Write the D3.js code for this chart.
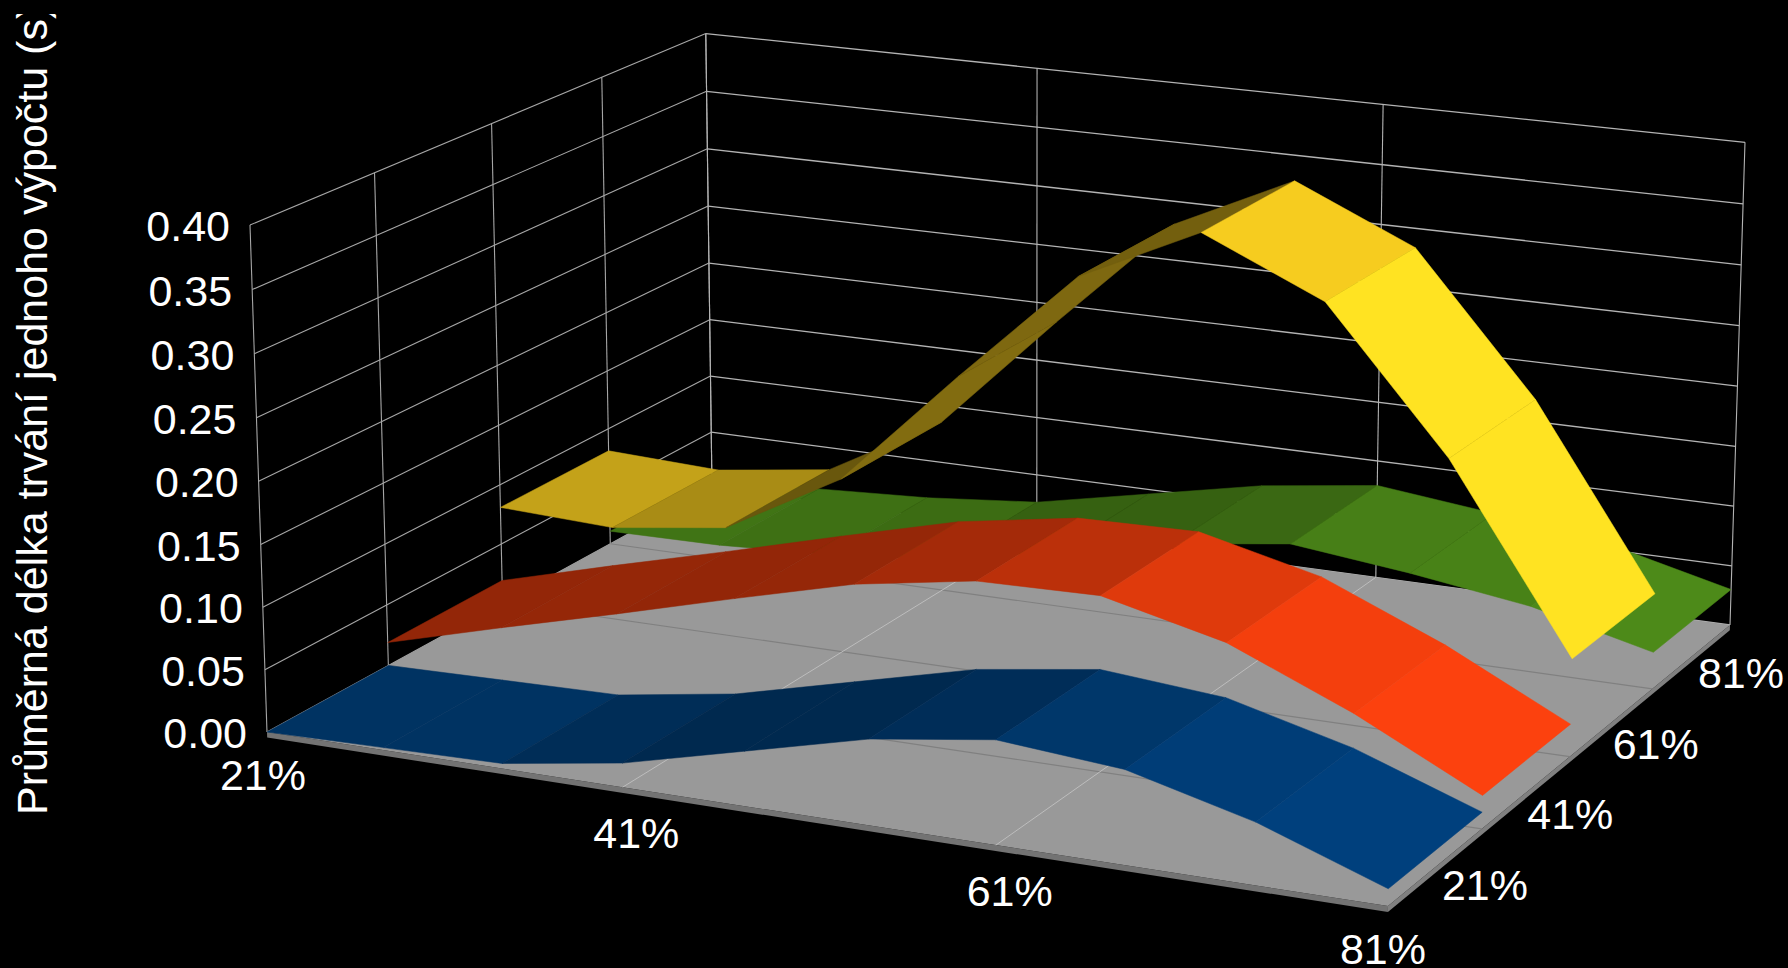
<!DOCTYPE html>
<html>
<head>
<meta charset="utf-8">
<script src="https://cdnjs.cloudflare.com/ajax/libs/d3/7.8.5/d3.min.js"></script>
<style>
  html, body { margin: 0; background: #000; overflow: hidden; }
  text { font-family: "Liberation Sans", Arial, sans-serif; fill: #fff; }
</style>
</head>
<body>
<svg id="chart" width="1788" height="968"></svg>
<script>
/* Ribbon chart: ten samples along x, four ribbons along depth */
var xSteps = d3.range(10);
var xTickLabels = ['21%', '41%', '61%', '81%'];
var xTickSteps = [0, 3, 6, 9];
var depthLabels = ['21%', '41%', '61%', '81%'];
var valueTicks = [0, 0.05, 0.1, 0.15, 0.2, 0.25, 0.3, 0.35, 0.4];
var yTitle = 'Průměrná délka trvání jednoho výpočtu (s)';

var blueValues = [0.000, 0.002, 0.004, 0.019, 0.043, 0.067, 0.081, 0.073, 0.048, 0.013];
var redValues = [0.019, 0.045, 0.070, 0.096, 0.121, 0.137, 0.139, 0.116, 0.075, 0.026];
var yellowValues = [0.081, 0.077, 0.090, 0.143, 0.239, 0.331, 0.377, 0.334, 0.223, 0.078];
var greenValues = [0.011, 0.012, 0.017, 0.026, 0.046, 0.066, 0.079, 0.068, 0.054, 0.030];
var seriesValues = [blueValues, redValues, yellowValues, greenValues];
var seriesColors = ['#004586', '#ff420e', '#ffd320', '#579d1c'];

/* screen positions of the box corners, the camera is derived from these */
var floorCorners = [[267, 732], [1388, 906], [1730, 625], [712, 488]];
var leftTop = [250, 225], rightTop = [1745, 138];

var xs = d3.scaleLinear().domain([0, xSteps.length - 1]).range([0, 1]);
var ys = d3.scaleLinear().domain([0, 0.4]).range([0, 1]);
var zs = d3.scaleLinear().domain([0, depthLabels.length]).range([0, 1]);

function buildCamera() {
  var c = floorCorners;
  var dx1 = c[1][0] - c[2][0], dx2 = c[3][0] - c[2][0], sx = c[0][0] - c[1][0] + c[2][0] - c[3][0];
  var dy1 = c[1][1] - c[2][1], dy2 = c[3][1] - c[2][1], sy = c[0][1] - c[1][1] + c[2][1] - c[3][1];
  var den = dx1 * dy2 - dx2 * dy1;
  var g = (sx * dy2 - dx2 * sy) / den, h = (dx1 * sy - sx * dy1) / den;
  var a = c[1][0] - c[0][0] + g * c[1][0], b = c[3][0] - c[0][0] + h * c[3][0];
  var d = c[1][1] - c[0][1] + g * c[1][1], e = c[3][1] - c[0][1] + h * c[3][1];
  var p0 = c[0][0], f = c[0][1];
  /* height column from the two known wall tops */
  var r1 = leftTop[0] - p0;
  var r2 = rightTop[0] * (1 + g + h) - (a + b + p0);
  var C = (r1 - r2) / (rightTop[0] - leftTop[0]);
  var A = r1 + leftTop[0] * C;
  var B = leftTop[1] * (1 + C) - f;
  return function (x, y, z) {
    var w = g * x + C * y + h * z + 1;
    return [(a * x + A * y + b * z + p0) / w, (d * x + B * y + e * z + f) / w];
  };
}
var cam = buildCamera();
function project(i, v, z) { return cam(xs(i), ys(v), zs(z)); }

var svg = d3.select('#chart');
svg.append('rect').attr('width', 1788).attr('height', 968).attr('fill', '#000');

var polygon = d3.line();
function quad(pts) { return polygon(pts) + 'Z'; }
function seg(a, b, color, width) {
  svg.append('line')
    .attr('x1', a[0]).attr('y1', a[1]).attr('x2', b[0]).attr('y2', b[1])
    .attr('stroke', color).attr('stroke-width', width);
}

/* walls */
var last = xSteps.length - 1, deep = depthLabels.length;
valueTicks.forEach(function (v) {
  seg(project(0, v, 0), project(0, v, deep), '#a6a6a6', 1.1);
  seg(project(0, v, deep), project(last, v, deep), '#b3b3b3', 1.3);
});
d3.range(deep + 1).forEach(function (z) {
  seg(project(0, 0, z), project(0, 0.4, z), '#a6a6a6', 1.1);
});
xTickSteps.forEach(function (i) {
  seg(project(i, 0, deep), project(i, 0.4, deep), '#b3b3b3', 1.1);
});

/* floor slab */
var slab = -0.0045;
svg.append('path').attr('fill', '#737373')
  .attr('d', quad([project(0, 0, 0), project(last, 0, 0), project(last, slab, 0), project(0, slab, 0)]));
svg.append('path').attr('fill', '#808080')
  .attr('d', quad([project(last, 0, 0), project(last, 0, deep), project(last, slab, deep), project(last, slab, 0)]));
svg.append('path').attr('fill', '#999999')
  .attr('d', quad([project(0, 0, 0), project(last, 0, 0), project(last, 0, deep), project(0, 0, deep)]));
[1, 2, 3].forEach(function (z) {
  seg(project(0, 0, z), project(last, 0, z), '#808080', 1.2);
});
[3, 6].forEach(function (i) {
  seg(project(i, 0, 0), project(i, 0, deep), '#bdbdbd', 1);
});

/* flat shading from the slope of each segment, light comes from the right */
function shade(base, dv) {
  var t = Math.atan(dv / 0.05 * -0.46);
  var lit = Math.abs(0.5 * Math.cos(t) + 0.866 * Math.sin(t));
  var b = Math.min(1.075, (0.33 + 0.72 * lit) * 1.08);
  var c = d3.rgb(base);
  return d3.rgb(Math.min(255, c.r * b), Math.min(255, c.g * b), Math.min(255, c.b * b)).formatHex();
}

/* back ribbon first */
d3.range(deep - 1, -1, -1).forEach(function (s) {
  var vals = seriesValues[s];
  d3.range(last).forEach(function (i) {
    var col = shade(seriesColors[s], vals[i + 1] - vals[i]);
    svg.append('path')
      .attr('d', quad([project(i, vals[i], s), project(i + 1, vals[i + 1], s), project(i + 1, vals[i + 1], s + 1), project(i, vals[i], s + 1)]))
      .attr('fill', col).attr('stroke', col).attr('stroke-width', 0.5);
  });
});

/* labels */
valueTicks.forEach(function (v) {
  var p = project(0, v, 0);
  svg.append('text')
    .attr('x', p[0] - 20).attr('y', p[1] + 16)
    .attr('text-anchor', 'end').attr('font-size', 43)
    .text(v.toFixed(2));
});

var labelX = d3.scaleLinear().domain([0, 3]).range([263, 1383]);
var labelY = d3.scaleLinear().domain([0, 3]).range([790, 964]);
xTickLabels.forEach(function (l, k) {
  svg.append('text')
    .attr('x', labelX(k)).attr('y', labelY(k))
    .attr('text-anchor', 'middle').attr('font-size', 43)
    .text(l);
});

var depthX = d3.scaleLinear().domain([0, 3]).range([1485, 1741]);
var depthY = d3.scaleLinear().domain([0, 3]).range([900, 688]);
depthLabels.forEach(function (l, k) {
  svg.append('text')
    .attr('x', depthX(k)).attr('y', depthY(k))
    .attr('text-anchor', 'middle').attr('font-size', 43)
    .text(l);
});

/* axis title runs into the top edge of the plot area */
svg.append('clipPath').attr('id', 'title-clip')
  .append('rect').attr('x', 0).attr('y', 14).attr('width', 100).attr('height', 954);
svg.append('g').attr('clip-path', 'url(#title-clip)')
  .append('text')
  .attr('transform', 'translate(47,815) rotate(-90)')
  .attr('font-size', 43)
  .text(yTitle);
</script>
</body>
</html>
